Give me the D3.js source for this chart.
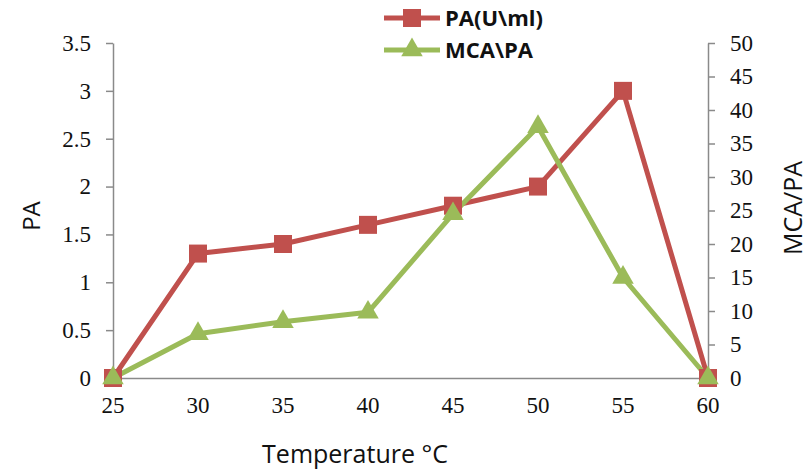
<!DOCTYPE html>
<html>
<head>
<meta charset="utf-8">
<script src="https://cdn.jsdelivr.net/npm/d3@7"></script>
<style>
  html, body { margin: 0; padding: 0; background: #fff; }
  svg { display: block; }
</style>
</head>
<body>
<svg id="chart" width="811" height="471"></svg>
<script>
// Temperature series (°C) and the two measured series
const temperatures = [25, 30, 35, 40, 45, 50, 55, 60];
const paValues = [0, 1.3, 1.4, 1.6, 1.8, 2.0, 3.0, 0];
const mcaPaValues = [0, 6.6, 8.4, 9.8, 24.5, 37.5, 15, 0];
const leftTicks = [0, 0.5, 1, 1.5, 2, 2.5, 3, 3.5];
const rightTicks = [0, 5, 10, 15, 20, 25, 30, 35, 40, 45, 50];
const seriesNames = ["PA(U\\ml)", "MCA\\PA"];

const RED = "#C0504D", GREEN = "#9BBB59", AXIS = "#8a8a8a";
const svg = d3.select("#chart");
const plot = { left: 113, right: 708, top: 43, bottom: 378 };

const x = d3.scaleLinear().domain([25, 60]).range([plot.left, plot.right]);
const yL = d3.scaleLinear().domain([0, 3.5]).range([plot.bottom, plot.top]);
const yR = d3.scaleLinear().domain([0, 50]).range([plot.bottom, plot.top]);

const SERIF = '"Liberation Serif"';
const SANS = '"Open Sans"';

// Axis lines and tick marks
const gL = svg.append("g").attr("transform", `translate(${plot.left},0)`)
  .call(d3.axisLeft(yL).tickValues(leftTicks).tickSize(7).tickSizeOuter(0).tickFormat(""));
const gR = svg.append("g").attr("transform", `translate(${plot.right},0)`)
  .call(d3.axisRight(yR).tickValues(rightTicks).tickSize(7).tickSizeOuter(0).tickFormat(""));
const gB = svg.append("g").attr("transform", `translate(0,${plot.bottom})`)
  .call(d3.axisBottom(x).tickValues(temperatures).tickSize(0).tickFormat(""));

[gL, gR, gB].forEach(g => {
  g.select(".domain").attr("stroke", AXIS).attr("stroke-width", 1.5);
  g.selectAll(".tick line").attr("stroke", AXIS).attr("stroke-width", 1.5);
  g.selectAll(".tick text").remove();
});
gL.select(".tick line").remove();
gR.select(".tick line").remove();

// Tick labels, each text carrying its own font settings
function tickText(sel) {
  return sel.attr("fill", "#111")
    .attr("font-family", "Liberation Serif")
    .style("font-family", SERIF)
    .attr("font-size", 23);
}
svg.selectAll("text.yl").data(leftTicks).join("text").attr("class", "yl")
  .call(tickText)
  .attr("x", plot.left - 22).attr("y", d => yL(d)).attr("dy", "0.34em")
  .attr("text-anchor", "end").text(d => String(d));
svg.selectAll("text.yr").data(rightTicks).join("text").attr("class", "yr")
  .call(tickText)
  .attr("x", plot.right + 22).attr("y", d => yR(d)).attr("dy", "0.34em")
  .attr("text-anchor", "start").text(d => String(d));
svg.selectAll("text.xb").data(temperatures).join("text").attr("class", "xb")
  .call(tickText)
  .attr("x", d => x(d)).attr("y", plot.bottom + 35)
  .attr("text-anchor", "middle").text(d => String(d));

// Series lines
const lineL = d3.line().x((d, i) => x(temperatures[i])).y(d => yL(d));
const lineR = d3.line().x((d, i) => x(temperatures[i])).y(d => yR(d));

svg.append("path").datum(paValues).attr("d", lineL)
  .attr("fill", "none").attr("stroke", RED).attr("stroke-width", 5).attr("stroke-linejoin", "round");
svg.append("path").datum(mcaPaValues).attr("d", lineR)
  .attr("fill", "none").attr("stroke", GREEN).attr("stroke-width", 5).attr("stroke-linejoin", "round");

// Markers
const sq = d3.symbol().type(d3.symbolSquare).size(18 * 18);
const tri = d3.symbol().type(d3.symbolTriangle).size(200);

svg.append("g").selectAll("path").data(paValues).join("path")
  .attr("d", sq)
  .attr("transform", (d, i) => `translate(${x(temperatures[i])},${yL(d)})`)
  .attr("fill", RED);
svg.append("g").selectAll("path").data(mcaPaValues).join("path")
  .attr("d", tri)
  .attr("transform", (d, i) => `translate(${x(temperatures[i])},${yR(d)})`)
  .attr("fill", GREEN);

// Axis titles
svg.append("text").attr("x", 355).attr("y", 463).attr("text-anchor", "middle")
  .style("font-family", SANS).attr("font-size", 25).attr("fill", "#111")
  .text("Temperature °C");
svg.append("text").attr("transform", "translate(40,216) rotate(-90)").attr("text-anchor", "middle")
  .style("font-family", SANS).attr("font-size", 24).attr("fill", "#111").text("PA");
svg.append("text").attr("transform", "translate(802,208) rotate(-90)").attr("text-anchor", "middle")
  .style("font-family", SANS).attr("font-size", 25).attr("fill", "#111").text("MCA/PA");

// Legend
const legend = svg.append("g");
const legendRows = [
  { name: seriesNames[0], color: RED, symbol: sq, y: 18 },
  { name: seriesNames[1], color: GREEN, symbol: tri, y: 50 }
];
legendRows.forEach(r => {
  legend.append("line").attr("x1", 384).attr("x2", 440).attr("y1", r.y).attr("y2", r.y)
    .attr("stroke", r.color).attr("stroke-width", 5);
  legend.append("path").attr("d", r.symbol).attr("transform", `translate(412,${r.y})`).attr("fill", r.color);
  legend.append("text").attr("x", 445).attr("y", r.y + 8)
    .style("font-family", SANS).attr("font-weight", "bold").attr("font-size", 22)
    .attr("fill", "#111").text(r.name);
});
</script>
</body>
</html>
